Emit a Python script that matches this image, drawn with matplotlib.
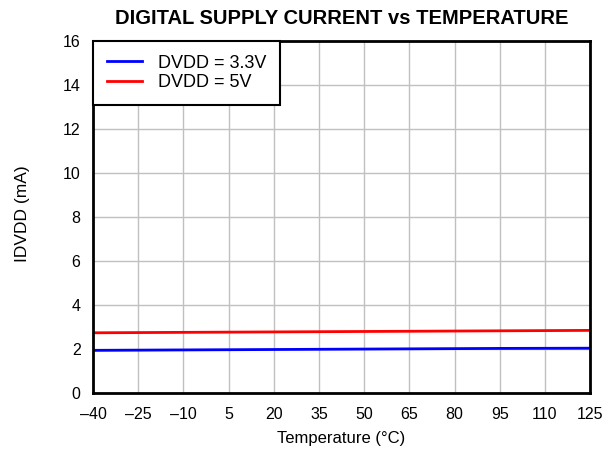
import numpy as np
import matplotlib.pyplot as plt

plt.rcParams['font.family'] = ['Liberation Sans', 'DejaVu Sans']

# temperature sweep and supply current for each DVDD level
temp = [-40, -25, -10, 5, 20, 35, 50, 65, 80, 95, 110, 125]
idvdd_33 = [1.93, 1.94, 1.95, 1.96, 1.97, 1.98, 1.99, 2.00, 2.01, 2.02, 2.025, 2.03]
idvdd_5 = [2.73, 2.74, 2.75, 2.76, 2.77, 2.78, 2.79, 2.80, 2.81, 2.82, 2.83, 2.84]
xticks = [-40, -25, -10, 5, 20, 35, 50, 65, 80, 95, 110, 125]
yticks = [0, 2, 4, 6, 8, 10, 12, 14, 16]

fig = plt.figure(figsize=(6.16, 4.51), dpi=100)
ax = fig.add_axes([0.151, 0.129, 0.807, 0.780])

ax.plot(temp, idvdd_33, color='#0000ff', lw=2, label='DVDD = 3.3V')
ax.plot(temp, idvdd_5, color='#ff0000', lw=2, label='DVDD = 5V')

ax.set_xlim(-40, 125)
ax.set_ylim(0, 16)
ax.set_xticks(xticks)
ax.set_xticklabels([str(t).replace('-', '\u2013') for t in xticks])
ax.set_yticks(yticks)
ax.tick_params(length=0, labelsize=11.5)
ax.tick_params(axis='x', pad=10)
ax.tick_params(axis='y', pad=9)
ax.grid(True, color='#c0c0c0', lw=1)
for s in ax.spines.values():
    s.set_linewidth(2)
    s.set_color('black')

ax.set_xlabel('Temperature (\u00b0C)', fontsize=12, labelpad=7)
ax.set_ylabel('IDVDD (mA)', fontsize=12.5)
ax.yaxis.set_label_coords(-0.127, 0.51)
ax.set_title('DIGITAL SUPPLY CURRENT vs TEMPERATURE', fontsize=14.5, fontweight='bold', pad=12)

leg = ax.legend(loc='upper left', fontsize=13, fancybox=False, framealpha=1,
                borderaxespad=0, handlelength=1.95, handletextpad=0.9,
                borderpad=0.75, labelspacing=0.15)
leg.get_frame().set_edgecolor('black')
leg.get_frame().set_linewidth(1.5)

fig.savefig('out.png', dpi=100)
